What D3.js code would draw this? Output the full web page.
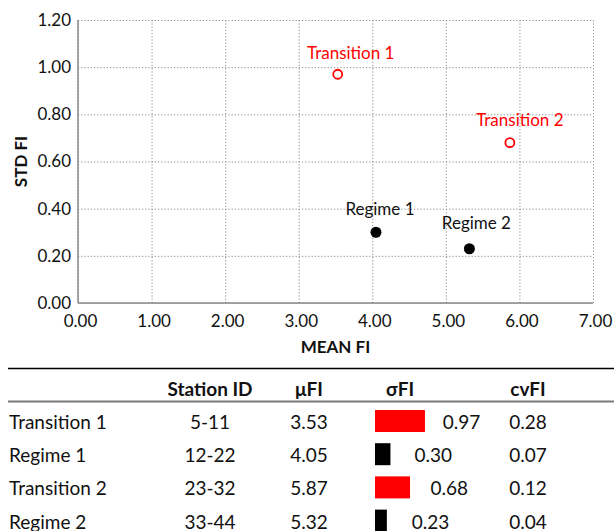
<!DOCTYPE html>
<html>
<head>
<meta charset="utf-8">
<script src="https://cdn.jsdelivr.net/npm/d3@7"></script>
<style>
  html, body { margin: 0; padding: 0; background: #fff; }
  svg { display: block; font-family: Lato, "Open Sans", sans-serif; }
</style>
</head>
<body>
<svg id="chart" width="614" height="531"></svg>
<script>
// ---- data ----
const categories = ["Transition 1", "Regime 1", "Transition 2", "Regime 2"];
const groupType = ["transition", "regime", "transition", "regime"];
const stationIds = ["5-11", "12-22", "23-32", "33-44"];
const meanFI = [3.53, 4.05, 5.87, 5.32];
const stdFI = [0.97, 0.30, 0.68, 0.23];
const cvFI = [0.28, 0.07, 0.12, 0.04];
const xTicks = [0, 1, 2, 3, 4, 5, 6, 7];
const yTicks = [0, 0.2, 0.4, 0.6, 0.8, 1.0, 1.2];
const headers = ["Station ID", "μFI", "σFI", "cvFI"];
const xTitle = "MEAN FI";
const yTitle = "STD FI";

// ---- layout / style ----
const colors = { transition: "#ff0000", regime: "#000000" };
const labelOffsets = [[13, -15], [4, -17], [10, -17], [7, -20]];
const plot = { left: 78, right: 593, top: 20, bottom: 303 };

const svg = d3.select("#chart");
svg.append("rect").attr("width", 614).attr("height", 531).attr("fill", "#fff");

const x = d3.scaleLinear().domain([0, 7]).range([plot.left, plot.right]);
const y = d3.scaleLinear().domain([0, 1.2]).range([plot.bottom, plot.top]);

// grid + ticks via axes
const gx = svg.append("g").attr("transform", `translate(0,${plot.bottom})`)
  .call(d3.axisBottom(x).tickValues(xTicks).tickFormat(d3.format(".2f"))
    .tickSizeInner(-(plot.bottom - plot.top)).tickSizeOuter(0).tickPadding(12));
const gy = svg.append("g").attr("transform", `translate(${plot.left},0)`)
  .call(d3.axisLeft(y).tickValues(yTicks).tickFormat(d3.format(".2f"))
    .tickSizeInner(-(plot.right - plot.left)).tickSizeOuter(0).tickPadding(7));

[gx, gy].forEach(g => {
  g.select(".domain").remove();
  g.selectAll(".tick line").attr("stroke", "#8a8a8a").attr("stroke-width", 1)
    .attr("stroke-dasharray", "1.2,2");
  g.selectAll(".tick text").attr("fill", "#111").style("font-size", "17px")
    .style("font-family", "Lato, sans-serif");
});
gx.selectAll(".tick text").attr("dx", "2");

// solid axis lines
svg.append("line").attr("x1", plot.left).attr("x2", plot.left)
  .attr("y1", plot.top).attr("y2", plot.bottom)
  .attr("stroke", "#8a8a8a").attr("stroke-width", 1.5);
svg.append("line").attr("x1", plot.left).attr("x2", plot.right)
  .attr("y1", plot.bottom).attr("y2", plot.bottom)
  .attr("stroke", "#8a8a8a").attr("stroke-width", 1.5);

// axis titles
svg.append("text").attr("x", (plot.left + plot.right) / 2).attr("y", 353)
  .attr("text-anchor", "middle").style("font-weight", "bold").style("font-size", "17px")
  .attr("fill", "#111").text(xTitle);
svg.append("text").attr("transform", `translate(27,${(plot.top + plot.bottom) / 2}) rotate(-90)`)
  .attr("text-anchor", "middle").style("font-weight", "bold").style("font-size", "17px")
  .attr("fill", "#111").text(yTitle);

// points
const pts = categories.map((c, i) => ({ c, i, mx: meanFI[i], sd: stdFI[i], t: groupType[i] }));
svg.append("g").selectAll("circle").data(pts).join("circle")
  .attr("cx", d => x(d.mx)).attr("cy", d => y(d.sd))
  .attr("r", d => d.t === "regime" ? 5.5 : 4.5)
  .attr("fill", d => d.t === "regime" ? colors.regime : "#fff")
  .attr("stroke", d => colors[d.t])
  .attr("stroke-width", d => d.t === "regime" ? 0 : 1.8);

svg.append("g").selectAll("text").data(pts).join("text")
  .attr("x", d => x(d.mx) + labelOffsets[d.i][0])
  .attr("y", d => y(d.sd) + labelOffsets[d.i][1])
  .attr("text-anchor", "middle").style("font-size", "17px")
  .attr("fill", d => colors[d.t] === "#000000" ? "#111" : colors[d.t])
  .text(d => d.c);

// ---- table ----
const tbl = { lineTop: 368.5, headY: 395.5, lineHead: 401.5, row0: 429, rowH: 33.2 };
const colX = [210, 309, 400, 528];
svg.append("line").attr("x1", 8).attr("x2", 614).attr("y1", tbl.lineTop).attr("y2", tbl.lineTop)
  .attr("stroke", "#000").attr("stroke-width", 1.5);
svg.append("line").attr("x1", 8).attr("x2", 614).attr("y1", tbl.lineHead).attr("y2", tbl.lineHead)
  .attr("stroke", "#7a7a7a").attr("stroke-width", 2);

svg.append("g").selectAll("text").data(headers).join("text")
  .attr("x", (d, i) => colX[i]).attr("y", tbl.headY).attr("text-anchor", "middle")
  .style("font-weight", "bold").style("font-size", "19px").attr("fill", "#111").text(d => d);

const barW = d3.scaleLinear().domain([0, 1]).range([0, 51.5]);
const valX = d3.scaleLinear().domain([0, 1]).range([402, 444]);
const barX0 = 375;
const rows = svg.append("g").selectAll("g").data(pts).join("g")
  .attr("transform", d => `translate(0,${tbl.row0 + d.i * tbl.rowH})`)
  .style("font-size", "19px").attr("fill", "#111");
rows.append("text").attr("x", 9).text(d => d.c);
rows.append("text").attr("x", colX[0]).attr("text-anchor", "middle").text(d => stationIds[d.i]);
rows.append("text").attr("x", colX[1]).attr("text-anchor", "middle").text(d => d3.format(".2f")(meanFI[d.i]));
rows.append("rect").attr("x", barX0).attr("y", -19).attr("height", 22)
  .attr("width", d => barW(d.sd)).attr("fill", d => colors[d.t]);
rows.append("text").attr("x", d => valX(d.sd)).text(d => d3.format(".2f")(d.sd));
rows.append("text").attr("x", colX[3]).attr("text-anchor", "middle").text(d => d3.format(".2f")(cvFI[d.i]));
</script>
</body>
</html>
